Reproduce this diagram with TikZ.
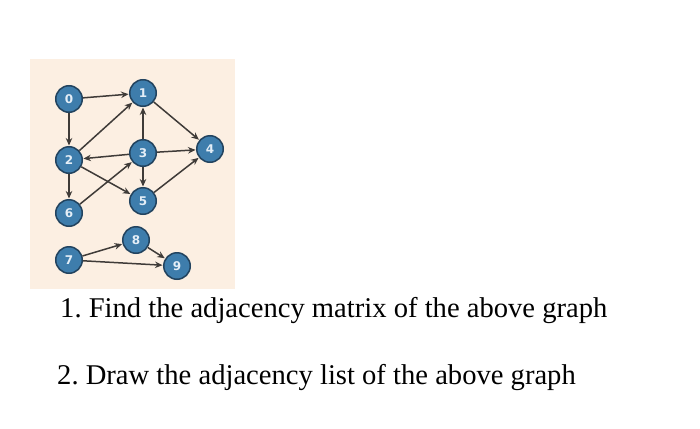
\documentclass[tikz,border=0pt]{standalone}
\usepackage{fontspec}
\setmainfont{Liberation Serif}
\newfontfamily\nodefont{DejaVu Sans}
\usetikzlibrary{arrows.meta}
\definecolor{bgbeige}{HTML}{FCEFE2}
\definecolor{nodeblue}{HTML}{3E7DAC}
\definecolor{nodeedge}{HTML}{22435F}
\definecolor{edgegray}{HTML}{3F3B38}
\definecolor{labeltext}{HTML}{E4EEF7}
\frenchspacing
\begin{document}
\begin{tikzpicture}[x=1pt,y=-1pt,
  vtx/.style={circle,draw=nodeedge,line width=1.5pt,fill=nodeblue,minimum size=26.5pt,inner sep=0pt,
    text=labeltext,font=\nodefont\bfseries\fontsize{12}{12}\selectfont},
  edge/.style={draw=edgegray,line width=1.5pt,-{Stealth[length=7.5pt,width=6.5pt]},shorten >=0.5pt},
  qtext/.style={anchor=base west,inner sep=0pt,font=\fontsize{28.6}{30}\selectfont}]
\useasboundingbox (0,0) rectangle (700,428);
\fill[white] (0,0) rectangle (700,428);
\fill[bgbeige] (30,59) rectangle (235,289);
\node[vtx] (n0) at (69,99) {0};
\node[vtx] (n1) at (143,93) {1};
\node[vtx] (n2) at (69,160) {2};
\node[vtx] (n3) at (143,153) {3};
\node[vtx] (n4) at (210,149) {4};
\node[vtx] (n5) at (143,201) {5};
\node[vtx] (n6) at (69,213) {6};
\node[vtx] (n7) at (69,260) {7};
\node[vtx] (n8) at (136,240) {8};
\node[vtx] (n9) at (177,266) {9};
\draw[edge] (n0) -- (n1);
\draw[edge] (n0) -- (n2);
\draw[edge] (n2) -- (n1);
\draw[edge] (n3) -- (n1);
\draw[edge] (n1) -- (n4);
\draw[edge] (n3) -- (n2);
\draw[edge] (n3) -- (n4);
\draw[edge] (n3) -- (n5);
\draw[edge] (n2) -- (n5);
\draw[edge] (n6) -- (n3);
\draw[edge] (n2) -- (n6);
\draw[edge] (n5) -- (n4);
\draw[edge] (n7) -- (n8);
\draw[edge] (n8) -- (n9);
\draw[edge] (n7) -- (n9);
\node[qtext] (q1) at (60,317) {1. Find the adjacency matrix of the above graph};
\node[qtext] (q2) at (57,384) {2. Draw the adjacency list of the above graph};
\end{tikzpicture}
\end{document}
